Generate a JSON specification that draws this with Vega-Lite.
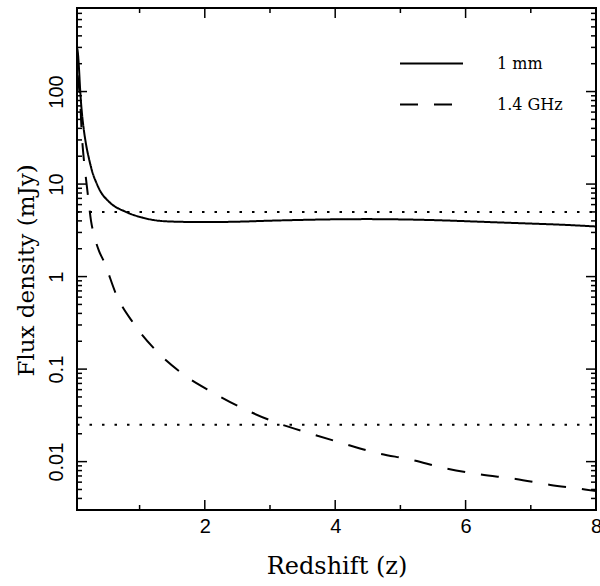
{
  "$schema": "https://vega.github.io/schema/vega-lite/v6.json",
  "width": 519,
  "height": 502,
  "autosize": {"type": "none"},
  "padding": {"left": 77, "top": 8, "right": 4, "bottom": 76},
  "background": "white",
  "config": {
    "view": {"stroke": "black", "strokeWidth": 2},
    "axis": {"domain": false, "grid": false, "ticks": false, "labelColor": "black", "titleColor": "black"},
    "rule": {"color": "black", "strokeWidth": 1.5}
  },
  "datasets": {
    "limits": [
      {"level": "1 mm limit", "z": 0.04, "flux": 5},
      {"level": "1 mm limit", "z": 8, "flux": 5},
      {"level": "1.4 GHz limit", "z": 0.04, "flux": 0.025},
      {"level": "1.4 GHz limit", "z": 8, "flux": 0.025}
    ],
    "xMajor": [{"z": 2}, {"z": 4}, {"z": 6}, {"z": 8}],
    "xMinor": [{"z": 1}, {"z": 3}, {"z": 5}, {"z": 7}],
    "yMajor": [{"flux": 0.01}, {"flux": 0.1}, {"flux": 1}, {"flux": 10}, {"flux": 100}],
    "yMinor": [
      {"flux": 0.003}, {"flux": 0.004}, {"flux": 0.005}, {"flux": 0.006}, {"flux": 0.007}, {"flux": 0.008}, {"flux": 0.009},
      {"flux": 0.02}, {"flux": 0.03}, {"flux": 0.04}, {"flux": 0.05}, {"flux": 0.06}, {"flux": 0.07}, {"flux": 0.08}, {"flux": 0.09},
      {"flux": 0.2}, {"flux": 0.3}, {"flux": 0.4}, {"flux": 0.5}, {"flux": 0.6}, {"flux": 0.7}, {"flux": 0.8}, {"flux": 0.9},
      {"flux": 2}, {"flux": 3}, {"flux": 4}, {"flux": 5}, {"flux": 6}, {"flux": 7}, {"flux": 8}, {"flux": 9},
      {"flux": 20}, {"flux": 30}, {"flux": 40}, {"flux": 50}, {"flux": 60}, {"flux": 70}, {"flux": 80}, {"flux": 90},
      {"flux": 200}, {"flux": 300}, {"flux": 400}, {"flux": 500}, {"flux": 600}, {"flux": 700}, {"flux": 800}
    ],
    "curves": [
      {"band": "1 mm", "z": 0.045, "flux": 290},
      {"band": "1 mm", "z": 0.055, "flux": 255},
      {"band": "1 mm", "z": 0.071, "flux": 175},
      {"band": "1 mm", "z": 0.086, "flux": 112},
      {"band": "1 mm", "z": 0.101, "flux": 77},
      {"band": "1 mm", "z": 0.117, "flux": 57},
      {"band": "1 mm", "z": 0.147, "flux": 37.6},
      {"band": "1 mm", "z": 0.178, "flux": 27},
      {"band": "1 mm", "z": 0.224, "flux": 18.8},
      {"band": "1 mm", "z": 0.27, "flux": 13.9},
      {"band": "1 mm", "z": 0.33, "flux": 10.6},
      {"band": "1 mm", "z": 0.393, "flux": 8.5},
      {"band": "1 mm", "z": 0.53, "flux": 6.45},
      {"band": "1 mm", "z": 0.79, "flux": 5.0},
      {"band": "1 mm", "z": 1.05, "flux": 4.33},
      {"band": "1 mm", "z": 1.3, "flux": 4.01},
      {"band": "1 mm", "z": 1.56, "flux": 3.92},
      {"band": "1 mm", "z": 2.0, "flux": 3.88},
      {"band": "1 mm", "z": 2.5, "flux": 3.92},
      {"band": "1 mm", "z": 3.0, "flux": 4.02},
      {"band": "1 mm", "z": 3.5, "flux": 4.1},
      {"band": "1 mm", "z": 4.0, "flux": 4.16},
      {"band": "1 mm", "z": 4.5, "flux": 4.18},
      {"band": "1 mm", "z": 5.0, "flux": 4.15},
      {"band": "1 mm", "z": 5.5, "flux": 4.08},
      {"band": "1 mm", "z": 6.0, "flux": 3.97},
      {"band": "1 mm", "z": 6.5, "flux": 3.85},
      {"band": "1 mm", "z": 7.0, "flux": 3.74},
      {"band": "1 mm", "z": 7.5, "flux": 3.63},
      {"band": "1 mm", "z": 8.0, "flux": 3.48},
      {"band": "1.4 GHz", "z": 0.05, "flux": 150},
      {"band": "1.4 GHz", "z": 0.086, "flux": 83},
      {"band": "1.4 GHz", "z": 0.117, "flux": 32},
      {"band": "1.4 GHz", "z": 0.147, "flux": 17.8},
      {"band": "1.4 GHz", "z": 0.178, "flux": 11.4},
      {"band": "1.4 GHz", "z": 0.21, "flux": 7.3},
      {"band": "1.4 GHz", "z": 0.255, "flux": 4.0},
      {"band": "1.4 GHz", "z": 0.3, "flux": 2.84},
      {"band": "1.4 GHz", "z": 0.377, "flux": 1.9},
      {"band": "1.4 GHz", "z": 0.454, "flux": 1.45},
      {"band": "1.4 GHz", "z": 0.65, "flux": 0.62},
      {"band": "1.4 GHz", "z": 0.91, "flux": 0.31},
      {"band": "1.4 GHz", "z": 1.25, "flux": 0.159},
      {"band": "1.4 GHz", "z": 1.65, "flux": 0.09},
      {"band": "1.4 GHz", "z": 2.1, "flux": 0.057},
      {"band": "1.4 GHz", "z": 2.57, "flux": 0.038},
      {"band": "1.4 GHz", "z": 3.06, "flux": 0.027},
      {"band": "1.4 GHz", "z": 3.6, "flux": 0.0203},
      {"band": "1.4 GHz", "z": 4.1, "flux": 0.0159},
      {"band": "1.4 GHz", "z": 4.6, "flux": 0.0126},
      {"band": "1.4 GHz", "z": 5.18, "flux": 0.0104},
      {"band": "1.4 GHz", "z": 5.68, "flux": 0.0085},
      {"band": "1.4 GHz", "z": 6.2, "flux": 0.0073},
      {"band": "1.4 GHz", "z": 6.77, "flux": 0.0065},
      {"band": "1.4 GHz", "z": 7.3, "flux": 0.0056},
      {"band": "1.4 GHz", "z": 7.83, "flux": 0.005},
      {"band": "1.4 GHz", "z": 8.0, "flux": 0.0048}
    ]
  },
  "layer": [
    {
      "data": {"name": "limits"},
      "mark": {"type": "line", "strokeDash": [2.5, 10], "strokeWidth": 2, "color": "black"},
      "encoding": {
        "x": {
          "field": "z", "type": "quantitative",
          "scale": {"domain": [0.04, 8], "nice": false, "zero": false},
          "axis": {
            "orient": "bottom",
            "values": [2, 4, 6, 8],
            "labelFont": "Liberation Sans", "labelFontSize": 20,
            "labelPadding": 6, "labelBaseline": "top",
            "labelFlush": false, "labelOverlap": false,
            "title": "Redshift (z)",
            "titleFont": "DejaVu Serif", "titleFontSize": 24, "titleFontWeight": "normal",
            "titleBaseline": "alphabetic", "titleY": 63
          }
        },
        "y": {
          "field": "flux", "type": "quantitative",
          "scale": {"type": "log", "domain": [0.003, 800], "nice": false},
          "axis": {
            "orient": "left",
            "values": [0.01, 0.1, 1, 10, 100],
            "format": "~g",
            "labelFont": "Liberation Sans", "labelFontSize": 20,
            "labelAngle": 270, "labelAlign": "center", "labelBaseline": "alphabetic",
            "labelPadding": 15, "labelFlush": false, "labelOverlap": false,
            "title": "Flux density (mJy)",
            "titleFont": "DejaVu Serif", "titleFontSize": 23, "titleFontWeight": "normal",
            "titleAngle": 270, "titleAlign": "center", "titleBaseline": "alphabetic",
            "titleX": -44, "titleY": 262
          }
        },
        "detail": {"field": "level", "type": "nominal"}
      }
    },
    {
      "data": {"name": "curves"},
      "mark": {"type": "line", "strokeWidth": 2, "color": "black", "interpolate": "monotone"},
      "encoding": {
        "x": {"field": "z", "type": "quantitative", "axis": null},
        "y": {"field": "flux", "type": "quantitative", "axis": null},
        "strokeDash": {
          "field": "band", "type": "nominal",
          "scale": {"domain": ["1 mm", "1.4 GHz"], "range": [[1, 0], [18, 16]]},
          "legend": {
            "title": null, "orient": "none", "legendX": 322, "legendY": 23,
            "symbolType": "stroke", "symbolSize": 3969, "symbolStrokeWidth": 2, "symbolStrokeColor": "black",
            "labelFont": "DejaVu Serif", "labelFontSize": 16, "labelColor": "black",
            "labelOffset": 33, "rowPadding": -11, "padding": 0
          }
        }
      }
    },
    {
      "data": {"name": "xMajor"},
      "mark": {"type": "rule", "y2Offset": -10},
      "encoding": {"x": {"field": "z", "type": "quantitative", "axis": null}, "y": {"datum": 0.003, "type": "quantitative", "axis": null}, "y2": {"datum": 0.003}}
    },
    {
      "data": {"name": "xMajor"},
      "mark": {"type": "rule", "y2Offset": 10},
      "encoding": {"x": {"field": "z", "type": "quantitative", "axis": null}, "y": {"datum": 800, "type": "quantitative", "axis": null}, "y2": {"datum": 800}}
    },
    {
      "data": {"name": "xMinor"},
      "mark": {"type": "rule", "y2Offset": -5},
      "encoding": {"x": {"field": "z", "type": "quantitative", "axis": null}, "y": {"datum": 0.003, "type": "quantitative", "axis": null}, "y2": {"datum": 0.003}}
    },
    {
      "data": {"name": "xMinor"},
      "mark": {"type": "rule", "y2Offset": 5},
      "encoding": {"x": {"field": "z", "type": "quantitative", "axis": null}, "y": {"datum": 800, "type": "quantitative", "axis": null}, "y2": {"datum": 800}}
    },
    {
      "data": {"name": "yMajor"},
      "mark": {"type": "rule", "x2Offset": 10},
      "encoding": {"y": {"field": "flux", "type": "quantitative", "axis": null}, "x": {"datum": 0.04, "type": "quantitative", "axis": null}, "x2": {"datum": 0.04}}
    },
    {
      "data": {"name": "yMajor"},
      "mark": {"type": "rule", "x2Offset": -10},
      "encoding": {"y": {"field": "flux", "type": "quantitative", "axis": null}, "x": {"datum": 8, "type": "quantitative", "axis": null}, "x2": {"datum": 8}}
    },
    {
      "data": {"name": "yMinor"},
      "mark": {"type": "rule", "x2Offset": 5},
      "encoding": {"y": {"field": "flux", "type": "quantitative", "axis": null}, "x": {"datum": 0.04, "type": "quantitative", "axis": null}, "x2": {"datum": 0.04}}
    },
    {
      "data": {"name": "yMinor"},
      "mark": {"type": "rule", "x2Offset": -5},
      "encoding": {"y": {"field": "flux", "type": "quantitative", "axis": null}, "x": {"datum": 8, "type": "quantitative", "axis": null}, "x2": {"datum": 8}}
    }
  ],
  "resolve": {"axis": {"x": "independent", "y": "independent"}}
}
